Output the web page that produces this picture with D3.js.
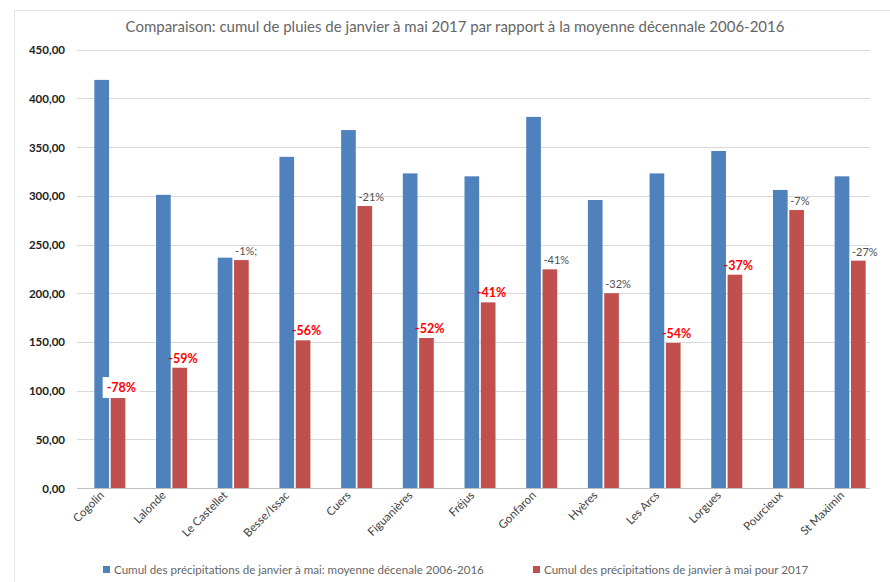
<!DOCTYPE html>
<meta charset="utf-8" />
<title>Cumul de pluies 2017</title>
<style>
  body { margin: 0; background: #fff; font-family: Lato, "Liberation Sans", sans-serif; }
  svg { display: block; }
  .grid line { stroke: #d9d9d9; stroke-width: 1px; }
  .yaxis text { font-size: 11.5px; font-weight: bold; fill: #222; font-family: Lato, sans-serif; }
  .title { font-size: 15px; fill: #666; }
  .legend text { font-size: 11.6px; fill: #666; }
</style>
<body>
<svg width="890" height="582"></svg>
<script src="https://d3js.org/d3.v7.min.js"></script>
<script>
  const communes = ["Cogolin", "Lalonde", "Le Castellet", "Besse/Issac", "Cuers", "Figuanières",
    "Fréjus", "Gonfaron", "Hyères", "Les Arcs", "Lorgues", "Pourcieux", "St Maximin"];
  const moyenne = [419, 301, 236.5, 340, 367.5, 323, 320, 381, 295.7, 323, 346, 306, 320];
  const cumul2017 = [93.4, 123.5, 234, 151.6, 289.5, 154, 190.6, 224.5, 200, 149, 219, 285.4, 233.4];
  const ecarts = ["-78%", "-59%", "-1%;", "-56%", "-21%", "-52%", "-41%", "-41%", "-32%", "-54%", "-37%", "-7%", "-27%"];
  const ecartFort = [true, true, false, true, false, true, true, false, false, true, true, false, false];
  const yTicks = [0, 50, 100, 150, 200, 250, 300, 350, 400, 450];
  const series = ["Cumul des précipitations de janvier à mai: moyenne décenale 2006-2016",
    "Cumul des précipitations de janvier à mai pour 2017"];
  const colors = ["#4f81bd", "#c0504d"];

  const svg = d3.select("svg");
  const plotLeft = 79, plotRight = 881, plotTop = 49.7, plotBottom = 488;

  // cadre léger
  svg.append("rect").attr("x", 14.5).attr("y", 10.5).attr("width", 890).attr("height", 590)
    .attr("fill", "none").attr("stroke", "#e6e6e6");

  svg.append("text").attr("class", "title")
    .attr("x", 455).attr("y", 32).attr("text-anchor", "middle")
    .text("Comparaison: cumul de pluies de janvier à mai 2017 par rapport à la moyenne décennale 2006-2016");

  const x = d3.scaleBand().domain(communes).range([plotLeft, plotRight]);
  const y = d3.scaleLinear().domain([0, 450]).range([plotBottom, plotTop]);
  const x1 = d3.scaleBand().domain([0, 1]).range([x.bandwidth() / 2 - 15.5, x.bandwidth() / 2 + 15.5]).paddingInner(0.1);

  svg.append("g").attr("class", "grid")
    .selectAll("line").data(yTicks.slice(1)).join("line")
    .attr("x1", plotLeft - 2).attr("x2", 870)
    .attr("y1", d => Math.round(y(d)) + 0.5).attr("y2", d => Math.round(y(d)) + 0.5);

  const yAxis = svg.append("g").attr("class", "yaxis")
    .attr("transform", `translate(${plotLeft - 14},0)`)
    .call(d3.axisLeft(y).tickValues(yTicks).tickSize(0).tickFormat(d => d3.format(".2f")(d).replace(".", ",")));
  yAxis.select(".domain").remove();
  yAxis.selectAll("text").attr("x", 0).attr("dy", "0.35em");

  svg.append("line").attr("x1", plotLeft - 2).attr("x2", 870)
    .attr("y1", plotBottom + 0.5).attr("y2", plotBottom + 0.5).attr("stroke", "#bfbfbf");

  const groups = svg.append("g").selectAll("g").data(communes).join("g")
    .attr("transform", d => `translate(${x(d)},0)`);

  groups.append("rect")
    .attr("x", x1(0)).attr("width", x1.bandwidth())
    .attr("y", (d, i) => y(moyenne[i])).attr("height", (d, i) => plotBottom - y(moyenne[i]))
    .attr("fill", colors[0]);

  groups.append("rect")
    .attr("x", x1(1)).attr("width", x1.bandwidth())
    .attr("y", (d, i) => y(cumul2017[i])).attr("height", (d, i) => plotBottom - y(cumul2017[i]))
    .attr("fill", colors[1]);

  // étiquettes d'écart
  groups.each(function (d, i) {
    const g = d3.select(this);
    const t = g.append("text")
      .attr("x", x1(1) - (ecartFort[i] ? 4 : -1))
      .attr("y", y(cumul2017[i]) - 5)
      .attr("font-size", ecartFort[i] ? "12.5px" : "11px")
      .attr("font-weight", ecartFort[i] ? "bold" : "normal")
      .attr("fill", ecartFort[i] ? "#ff0000" : "#505050")
      .text(ecarts[i]);
    if (i === 0) {
      const b = t.node().getBBox();
      g.insert("rect", "text").attr("x", b.x - 4).attr("y", b.y - 3)
        .attr("width", b.width + 8).attr("height", b.height + 6).attr("fill", "#fff");
    }
  });

  groups.append("text")
    .attr("transform", `translate(${x.bandwidth() / 2 - 5},${plotBottom + 8}) rotate(-45)`)
    .attr("text-anchor", "end")
    .attr("font-size", "11.5px").attr("fill", "#404040")
    .text(d => d);

  const legend = svg.append("g").attr("class", "legend");
  const legendX = [103, 533];
  series.forEach((s, i) => {
    legend.append("rect").attr("x", legendX[i]).attr("y", 566).attr("width", 7).attr("height", 7).attr("fill", colors[i]);
    legend.append("text").attr("x", legendX[i] + 11).attr("y", 574).text(s);
  });
</script>
</body>
